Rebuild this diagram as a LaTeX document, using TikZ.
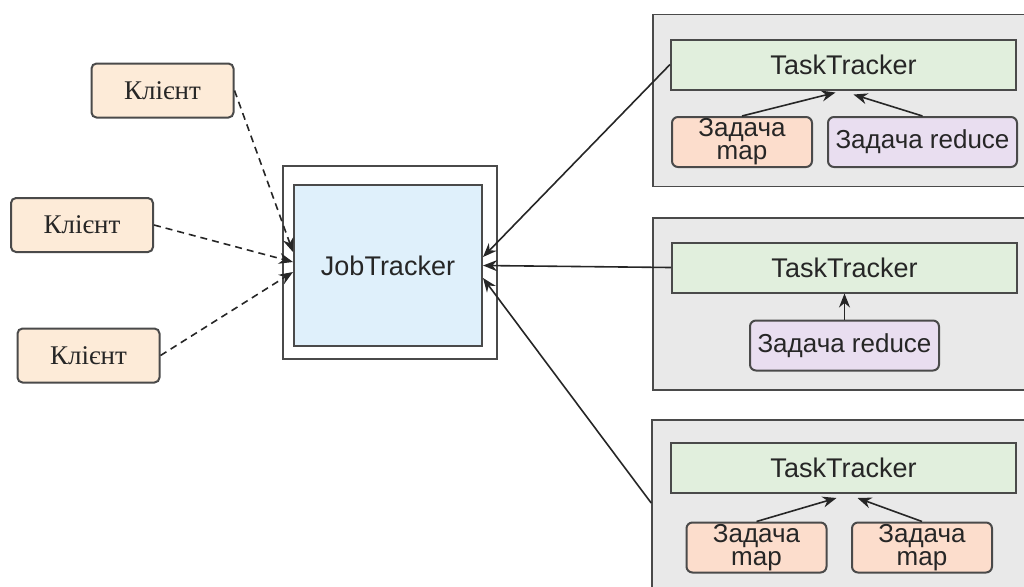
\documentclass[tikz,border=0pt]{standalone}
\usepackage{fontspec}
\setmainfont{Liberation Sans}
\newfontfamily\klfont{Liberation Serif}
\usetikzlibrary{arrows.meta}
\definecolor{edge}{HTML}{4A4A4A}
\definecolor{klfill}{HTML}{FDEBD8}
\definecolor{jtfill}{HTML}{DFF0FB}
\definecolor{ttfill}{HTML}{E1EFDD}
\definecolor{mapfill}{HTML}{FCDDCC}
\definecolor{redfill}{HTML}{E9DEF0}
\definecolor{grpfill}{HTML}{E9E9E9}
\begin{document}
\begin{tikzpicture}[x=0.5pt, y=-0.5pt,
  box/.style={draw=edge, line width=1pt, inner sep=0pt, align=center, text=black!85},
  client/.style={box, rounded corners=2.5pt, fill=klfill, minimum width=71pt,
    minimum height=27pt, font=\klfont\fontsize{13.5}{14}\selectfont},
  group/.style={draw=edge, line width=0.8pt, fill=grpfill, minimum width=189pt,
    minimum height=86pt, inner sep=0pt},
  tracker/.style={box, fill=ttfill, minimum width=172.5pt, minimum height=25pt,
    font=\fontsize{13.5}{14}\selectfont},
  maptask/.style={box, rounded corners=3pt, fill=mapfill, minimum width=70pt,
    minimum height=25pt, font=\fontsize{13}{11.5}\selectfont},
  redtask/.style={box, rounded corners=3pt, fill=redfill, minimum width=94.5pt,
    minimum height=25pt, font=\fontsize{13}{14}\selectfont},
  conn/.style={line width=0.8pt, black!85, -{Stealth[length=7pt,width=5.5pt]}},
  dconn/.style={conn, dash pattern=on 3.5pt off 2.5pt}]
  \useasboundingbox (0,0) rectangle (1024,586);

  % clients
  \node[client] (kl1) at (162.5,90.5) {Клієнт};
  \node[client] (kl2) at (82,225) {Клієнт};
  \node[client] (kl3) at (88.5,355.5) {Клієнт};

  % job tracker
  \node[box, fill=white, minimum width=107pt, minimum height=96.5pt] (jtout) at (390,262.5) {};
  \node[box, fill=jtfill, minimum width=94pt, minimum height=80.5pt,
    font=\fontsize{13.5}{15}\selectfont] (jt) at (388,265.5) {JobTracker};

  % task tracker groups
  \node[group] (g1) at (842,100.5) {};
  \node[group] (g2) at (842,304) {};
  \node[group, minimum height=90pt] (g3) at (841,510) {};

  \node[tracker] (tt1) at (843.5,64.5) {TaskTracker};
  \node[maptask] (m1) at (742,142) {Задача\\map};
  \node[redtask] (r1) at (922.5,142) {Задача reduce};

  \node[tracker] (tt2) at (844.5,267.5) {TaskTracker};
  \node[redtask] (r2) at (844.5,345.5) {Задача reduce};

  \node[tracker] (tt3) at (843.5,468) {TaskTracker};
  \node[maptask] (m3a) at (756.5,547.5) {Задача\\map};
  \node[maptask] (m3b) at (922,547.5) {Задача\\map};

  % client connections
  \draw[dconn] (kl1.east) -- ([yshift=6.75pt]jt.west);
  \draw[dconn] (kl2.east) -- ([yshift=1.75pt]jt.west);
  \draw[dconn] (kl3.east) -- ([yshift=-3.25pt]jt.west);

  % tracker connections
  \draw[conn] (tt1.west) -- ([yshift=4.25pt]jt.east);
  \draw[conn] (tt2.west) -- (jt.east);
  \draw[conn] ([yshift=3.5pt]g3.west) -- ([yshift=-6.25pt]jt.east);

  % tasks
  \draw[conn] (m1.north) -- ([xshift=-4pt,yshift=-1pt]tt1.south);
  \draw[conn] (r1.north) -- ([xshift=5pt,yshift=-2pt]tt1.south);
  \draw[conn] (r2.north) -- (tt2.south);
  \draw[conn] (m3a.north) -- ([xshift=-3.5pt,yshift=-2pt]tt3.south);
  \draw[conn] (m3b.north) -- ([xshift=7pt,yshift=-2pt]tt3.south);
\end{tikzpicture}
\end{document}
